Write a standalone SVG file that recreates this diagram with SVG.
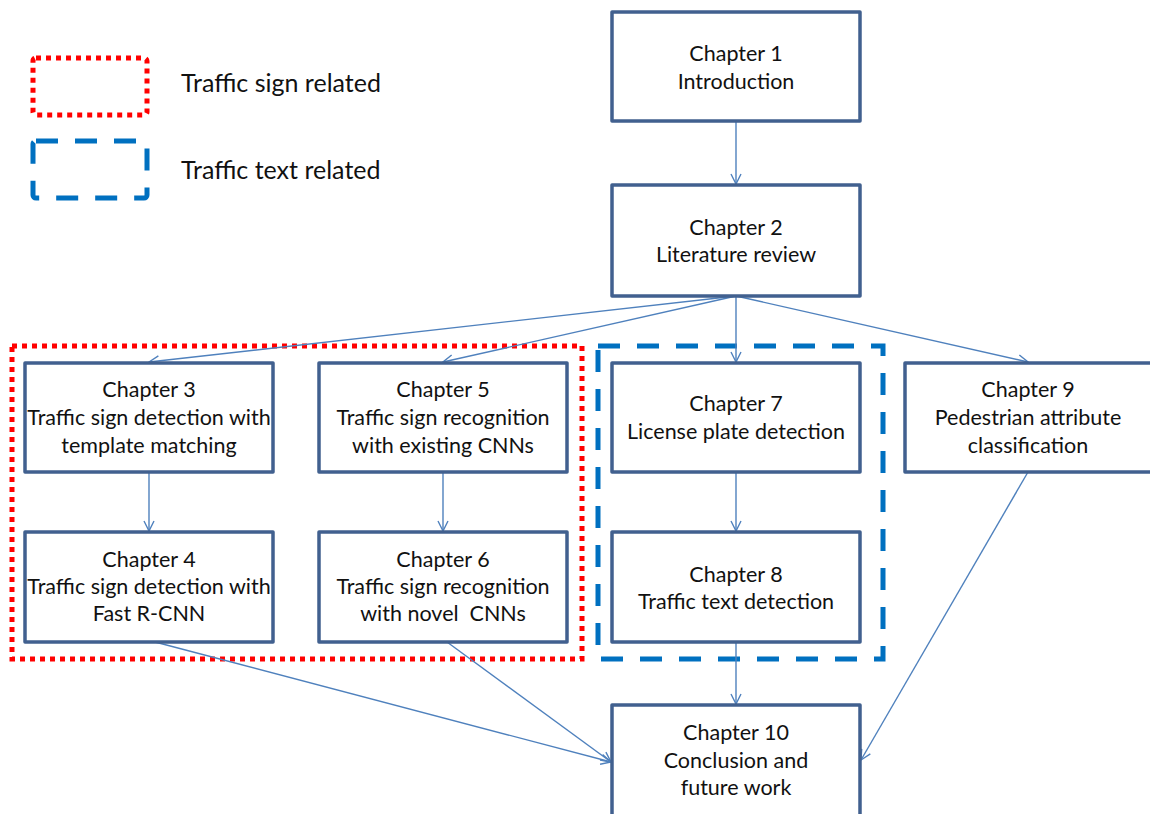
<svg xmlns="http://www.w3.org/2000/svg" width="1150" height="814" viewBox="0 0 1150 814">
<style>
.box{fill:#fff;stroke:#41608f;stroke-width:3.5;stroke-linejoin:round}
.t{font-family:Lato,"Open Sans",sans-serif;font-size:21.5px;fill:#111;text-anchor:middle;white-space:pre}
.lg{font-family:Lato,"Open Sans",sans-serif;font-size:25px;fill:#111}
.red{fill:none;stroke:#ff0000;stroke-width:5;stroke-dasharray:5 5}
.blue{fill:none;stroke:#0070c0;stroke-width:5;stroke-dasharray:22 17}
.c{fill:none;stroke:#4f81bd;stroke-width:1.4;marker-end:url(#a)}
</style>
<defs>
<marker id="a" viewBox="0 0 12 12" refX="11" refY="6" markerWidth="12" markerHeight="12" markerUnits="userSpaceOnUse" orient="auto">
<path d="M1,1 L11,6 L1,11" fill="none" stroke="#4f81bd" stroke-width="1.4"/>
</marker>
</defs>
<g id="legend">
<rect class="red" x="33" y="58" width="114" height="57" rx="3"/>
<text class="lg" x="181" y="92">Traffic sign related</text>
<rect class="blue" x="33" y="141" width="114" height="57" rx="3"/>
<text class="lg" x="181" y="179">Traffic text related</text>
</g>
<g id="groups">
<rect class="red" x="12" y="346" width="570" height="313"/>
<rect class="blue" x="598" y="346" width="285" height="313"/>
</g>
<g id="connectors">
<path class="c" d="M736,121 L736,184"/>
<path class="c" d="M736,296 L149,362"/>
<path class="c" d="M736,296 L443,362"/>
<path class="c" d="M736,296 L736,362"/>
<path class="c" d="M736,296 L1028,362"/>
<path class="c" d="M149,472 L149,531"/>
<path class="c" d="M443,472 L443,531"/>
<path class="c" d="M736,472 L736,531"/>
<path class="c" d="M736,642 L736,704"/>
<path class="c" d="M155,642 L611,762"/>
<path class="c" d="M447,642 L611,762"/>
<path class="c" d="M1028,472 L861,760"/>
</g>
<g id="ch1"><rect class="box" x="612" y="12" width="248" height="109"/>
<text class="t" x="736" y="61">Chapter 1</text><text class="t" x="736" y="89">Introduction</text></g>
<g id="ch2"><rect class="box" x="612" y="185" width="248" height="111"/>
<text class="t" x="736" y="235">Chapter 2</text><text class="t" x="736" y="262">Literature review</text></g>
<g id="ch3"><rect class="box" x="25" y="363" width="248" height="109"/>
<text class="t" x="149" y="397">Chapter 3</text><text class="t" x="149" y="425">Traffic sign detection with</text><text class="t" x="149" y="453">template matching</text></g>
<g id="ch5"><rect class="box" x="319" y="363" width="248" height="109"/>
<text class="t" x="443" y="397">Chapter 5</text><text class="t" x="443" y="425">Traffic sign recognition</text><text class="t" x="443" y="453">with existing CNNs</text></g>
<g id="ch7"><rect class="box" x="612" y="363" width="248" height="109"/>
<text class="t" x="736" y="411">Chapter 7</text><text class="t" x="736" y="439">License plate detection</text></g>
<g id="ch9"><rect class="box" x="905" y="363" width="250" height="109"/>
<text class="t" x="1028" y="397">Chapter 9</text><text class="t" x="1028" y="425">Pedestrian attribute</text><text class="t" x="1028" y="453">classification</text></g>
<g id="ch4"><rect class="box" x="25" y="532" width="248" height="110"/>
<text class="t" x="149" y="567">Chapter 4</text><text class="t" x="149" y="594">Traffic sign detection with</text><text class="t" x="149" y="621">Fast R-CNN</text></g>
<g id="ch6"><rect class="box" x="319" y="532" width="248" height="110"/>
<text class="t" x="443" y="567">Chapter 6</text><text class="t" x="443" y="594">Traffic sign recognition</text><text class="t" x="443" y="621">with novel  CNNs</text></g>
<g id="ch8"><rect class="box" x="612" y="532" width="248" height="110"/>
<text class="t" x="736" y="582">Chapter 8</text><text class="t" x="736" y="609">Traffic text detection</text></g>
<g id="ch10"><rect class="box" x="612" y="705" width="248" height="120"/>
<text class="t" x="736" y="740">Chapter 10</text><text class="t" x="736" y="768">Conclusion and</text><text class="t" x="736" y="795">future work</text></g>
</svg>
